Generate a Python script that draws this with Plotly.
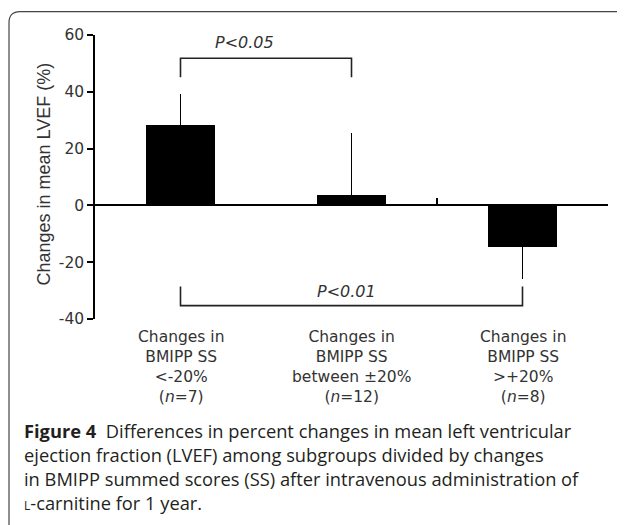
import plotly.graph_objects as go

# ---- data ----
categories = ["<-20%", "between ±20%", ">+20%"]
category_labels = [
    "Changes in<br>BMIPP SS<br>&lt;-20%<br>(<i>n</i>=7)",
    "Changes in<br>BMIPP SS<br>between ±20%<br>(<i>n</i>=12)",
    "Changes in<br>BMIPP SS<br>&gt;+20%<br>(<i>n</i>=8)",
]
mean_change = [28.3, 3.7, -14.5]
err_plus = [11.0, 21.8, 0.0]
err_minus = [0.0, 0.0, 11.5]
y_ticks = [-40, -20, 0, 20, 40, 60]
y_tick_labels = ["-40", "-20", "0", "20", "40", "60"]

# significance brackets: (from index, to index, bar level, tip level, label, label x, label y)
brackets = [
    (0, 2, -35.3, -28.6, "P&lt;0.01", 0.968, -30.4),
    (0, 1, 51.8, 45.1, "P&lt;0.05", 0.377, 57.3),
]

caption_lines = [
    "<b>Figure 4</b>  Differences in percent changes in mean left ventricular",
    "ejection fraction (LVEF) among subgroups divided by changes",
    "in BMIPP summed scores (SS) after intravenous administration of",
    "<span style='font-size:12px'>L</span>-carnitine for 1 year.",
]

# ---- layout geometry ----
OFF = 8                      # default page body margin
W, H = 625 - OFF, 525 - OFF  # figure size
# plot area in page pixels
PX0, PX1, PY0, PY1 = 95, 608, 35, 319
ML, MT = PX0 - OFF, PY0 - OFF
MR, MB = W - (PX1 - OFF), H - (PY1 - OFF)
PW, PH = PX1 - PX0, PY1 - PY0


def px_x(px):
    return (px - PX0) / PW


def px_y(py):
    return (PY1 - py) / PH


x_pos = list(range(len(categories)))
chart_font = "DejaVu Sans, sans-serif"
title_font = "Liberation Sans, Arial, sans-serif"
text_col = "#333333"

fig = go.Figure()
fig.add_trace(go.Bar(
    x=x_pos, y=mean_change, width=0.4,
    marker=dict(color="black", line=dict(width=0)),
    error_y=dict(type="data", symmetric=False, array=err_plus, arrayminus=err_minus,
                 color="black", thickness=1.6, width=0),
    showlegend=False, hoverinfo="skip",
))

for i0, i1, lvl, tip, lab, lx, ly in brackets:
    fig.add_trace(go.Scatter(
        x=[x_pos[i0], x_pos[i0], x_pos[i1], x_pos[i1]],
        y=[tip, lvl, lvl, tip], mode="lines",
        line=dict(color="#222222", width=1.6), showlegend=False, hoverinfo="skip",
        cliponaxis=False,
    ))
    fig.add_annotation(x=lx, y=ly, xref="x", yref="y", text=f"<i>{lab}</i>",
                       showarrow=False, font=dict(family=chart_font, size=16, color=text_col),
                       xanchor="center", yanchor="middle")

for xi, lab in zip(x_pos, category_labels):
    fig.add_annotation(x=xi, y=px_y(366.5), xref="x", yref="paper", text=lab,
                       showarrow=False, align="center",
                       font=dict(family=chart_font, size=15.5, color=text_col),
                       xanchor="center", yanchor="middle")

# y-axis title
fig.add_annotation(x=px_x(43), y=px_y(174.5), xref="paper", yref="paper",
                   text="Changes in mean LVEF (%)", textangle=-90, showarrow=False,
                   font=dict(family=title_font, size=18, color=text_col),
                   xanchor="center", yanchor="middle")

# caption
cap_font = "Open Sans, Noto Sans, sans-serif"
for k, line in enumerate(caption_lines):
    fig.add_annotation(x=px_x(22), y=px_y(430 + 24 * k), xref="paper", yref="paper",
                       text=line, showarrow=False, align="left",
                       font=dict(family=cap_font, size=18.3, color="#231f20"),
                       xanchor="left", yanchor="middle")

# rounded frame
r = 11
path = (f"M {px_x(9)},{px_y(540)} L {px_x(9)},{px_y(11.7 + r)} "
        f"Q {px_x(9)},{px_y(11.7)} {px_x(9 + r)},{px_y(11.7)} L {px_x(640)},{px_y(11.7)}")
fig.add_shape(type="path", path=path, xref="paper", yref="paper",
              line=dict(color="#444444", width=1.2))

fig.update_layout(
    width=W, height=H,
    margin=dict(l=ML, r=MR, t=MT, b=MB, pad=0),
    paper_bgcolor="white", plot_bgcolor="white",
    bargap=0,
    xaxis=dict(range=[-0.5, 2.5], anchor="free", position=0.4, showline=True,
               linecolor="black", linewidth=1.5, ticks="inside", tickvals=[1.5, 2.5],
               ticklen=7, tickwidth=1.5, tickcolor="black", showticklabels=False,
               showgrid=False, zeroline=False),
    yaxis=dict(range=[-40, 60], showline=True, linecolor="black", linewidth=1.5,
               ticks="outside", ticklen=6, tickwidth=1.5, tickcolor="black",
               tickvals=y_ticks, ticktext=y_tick_labels, showgrid=False, zeroline=False,
               tickfont=dict(family=chart_font, size=15.5, color=text_col)),
)

fig.write_html("out.html")
